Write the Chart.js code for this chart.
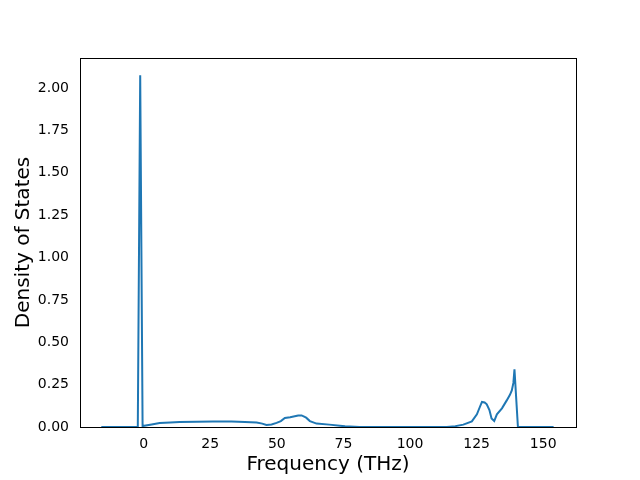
<!DOCTYPE html>
<html>
<head>
<meta charset="utf-8">
<script src="https://cdn.jsdelivr.net/npm/chart.js@4/dist/chart.umd.min.js"></script>
<style>
  html, body { margin: 0; padding: 0; background: #fff; }
  #wrap { width: 640px; height: 480px; }
</style>
</head>
<body>
<div id="wrap"><canvas id="dosChart" width="640" height="480"></canvas></div>
<script>
// frequency (THz) and density of states
const freq = [-15.9, -2.2, -1.3, -0.4, -0.2, 3, 6, 10, 13.5, 20, 26, 33, 38, 42.4, 44.5, 46.1, 48, 49.9, 51.5, 53, 55, 58, 59.3, 61, 62.4, 64.9, 69.7, 75.6, 81, 90, 100, 113.8, 117, 120, 123.2, 125.1, 126.2, 127, 128, 128.8, 129.8, 130.6, 131.6, 132.6, 134.5, 136.3, 137.5, 138.2, 138.8, 139.2, 140.5, 147, 153.9];
const dos  = [0, 0, 2.075, 0, 0.006, 0.015, 0.024, 0.027, 0.03, 0.031, 0.032, 0.032, 0.03, 0.026, 0.02, 0.012, 0.015, 0.024, 0.035, 0.053, 0.057, 0.068, 0.068, 0.055, 0.035, 0.02, 0.014, 0.004, 0, 0, 0, 0, 0.005, 0.014, 0.033, 0.075, 0.118, 0.148, 0.145, 0.134, 0.1, 0.05, 0.035, 0.075, 0.11, 0.157, 0.19, 0.216, 0.26, 0.34, 0, 0, 0];
const xTicks = [0, 25, 50, 75, 100, 125, 150];
const yTicks = [0, 0.25, 0.5, 0.75, 1.0, 1.25, 1.5, 1.75, 2.0];

const points = freq.map((f, i) => ({ x: f, y: dos[i] }));

// matplotlib-like full frame around the plot area
const frameBox = {
  id: 'frameBox',
  afterDraw(chart) {
    const { ctx, chartArea: a } = chart;
    ctx.save();
    ctx.strokeStyle = '#000';
    ctx.lineWidth = 1;
    ctx.strokeRect(Math.round(a.left) + 0.5, Math.round(a.top) + 0.5, Math.round(a.right - a.left), Math.round(a.bottom - a.top));
    ctx.restore();
  }
};

const ctx = document.getElementById('dosChart').getContext('2d');
const dosChart = new Chart(ctx, {
  type: 'line',
  data: {
    datasets: [{
      data: points,
      borderColor: '#1f77b4',
      borderWidth: 2,
      pointRadius: 0,
      tension: 0,
      fill: false
    }]
  },
  options: {
    responsive: false,
    animation: false,
    layout: { padding: { left: 0, right: 64, top: 58, bottom: 0 } },
    plugins: { legend: { display: false }, tooltip: { enabled: false } },
    scales: {
      x: {
        type: 'linear',
        min: -23.9,
        max: 162.3,
        afterBuildTicks: s => { s.ticks = xTicks.map(v => ({ value: v })); },
        afterFit: s => { s.height = 53; },
        grid: { display: false, drawTicks: true, tickLength: 5, tickColor: '#000' },
        border: { color: '#000' },
        ticks: { color: '#000', font: { family: 'DejaVu Sans', size: 14 }, padding: 4, maxRotation: 0, callback: v => String(v) },
        title: { display: true, text: 'Frequency (THz)', color: '#000', font: { family: 'DejaVu Sans', size: 20 }, padding: { top: 0, bottom: 3 } }
      },
      y: {
        min: 0,
        max: 2.177,
        afterBuildTicks: s => { s.ticks = yTicks.map(v => ({ value: v })); },
        afterFit: s => { s.width = 80; },
        grid: { display: false, drawTicks: true, tickLength: 5, tickColor: '#000' },
        border: { color: '#000' },
        ticks: { color: '#000', font: { family: 'DejaVu Sans', size: 14 }, padding: 6, callback: v => v.toFixed(2) },
        title: { display: true, text: 'Density of States', color: '#000', font: { family: 'DejaVu Sans', size: 20 }, padding: { top: 12, bottom: 0 } }
      }
    }
  },
  plugins: [frameBox]
});
</script>
</body>
</html>
